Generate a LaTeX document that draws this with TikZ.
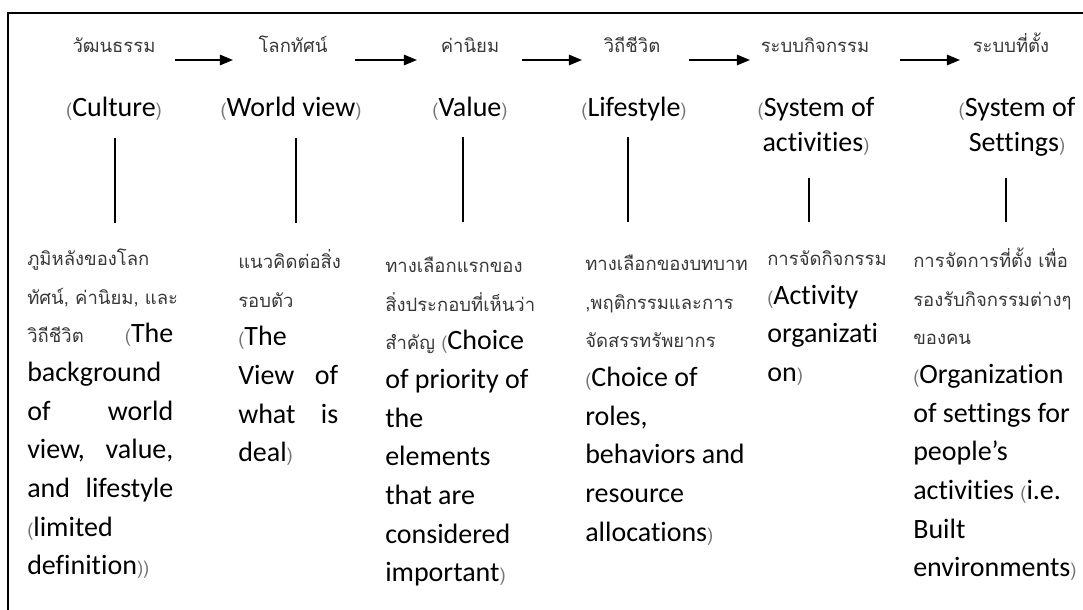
\documentclass[tikz,border=0pt]{standalone}
\usepackage{fontspec}
\setmainfont[Ligatures=NoCommon]{Carlito}
\newfontfamily\thai[Script=Thai,Scale=0.66]{Loma}
\usetikzlibrary{positioning,calc,arrows.meta}

\newcommand\tht[1]{{\thai\color{black!78}#1}}
\newcommand\paro{{\thai\color{black!55}(}}
\newcommand\parc{{\thai\color{black!55})}}
\newcommand\spreadline[3]{\makebox[#1][l]{#2\hfill#3}}

\tikzset{
	thaihead/.style={font=\fontsize{19.9}{25}\selectfont\thai, text=black!78, inner sep=0, anchor=base},
	enghead/.style={font=\fontsize{19.9}{24.9}\selectfont, inner sep=0, anchor=base, align=center},
	desc/.style={font=\fontsize{19.9}{27.5}\selectfont, inner sep=0, anchor=north west, align=left},
	flow/.style={line width=1.4pt, -{Triangle[length=0.33cm,width=0.26cm]}},
	stem/.style={line width=2.1pt},
	frame/.style={line width=1.4pt}
}

\begin{document}
\begin{tikzpicture}[x=0.025cm, y=-0.025cm]
	\useasboundingbox (0,0) rectangle (1083,610);
	\draw[frame] (8,610) -- (8,13) -- (1083,13);

	\node[thaihead] (culture) at (114,53) {วัฒนธรรม};
	\node[thaihead] (worldview) at (293,53) {โลกทัศน์};
	\node[thaihead] (value) at (470,53) {ค่านิยม};
	\node[thaihead] (lifestyle) at (632,53) {วิถีชีวิต};
	\node[thaihead] (activities) at (815,53) {ระบบกิจกรรม};
	\node[thaihead] (settings) at (1011,53) {ระบบที่ตั้ง};

	\draw[flow] ($(culture.base)+(61,7)$) -- ($(worldview.base)+(-60,7)$);
	\draw[flow] ($(worldview.base)+(62,7)$) -- ($(value.base)+(-53,7)$);
	\draw[flow] ($(value.base)+(52,7)$) -- ($(lifestyle.base)+(-50,7)$);
	\draw[flow] ($(lifestyle.base)+(57,7)$) -- ($(activities.base)+(-65,7)$);
	\draw[flow] ($(activities.base)+(85,7)$) -- ($(settings.base)+(-51,7)$);

	\node[enghead] (cultureEn) at (114,117) {\paro Culture\parc};
	\node[enghead] (worldviewEn) at (291,117) {\paro World view\parc};
	\node[enghead] (valueEn) at (470,117) {\paro Value\parc};
	\node[enghead] (lifestyleEn) at (634,117) {\paro Lifestyle\parc};
	\node[enghead] (activitiesEn) at (816,152) {\paro System of\\activities\parc};
	\node[enghead] (settingsEn) at (1017,152) {\paro System of\\Settings\parc};

	\draw[stem] ($(cultureEn.base)+(1,21)$) -- ($(cultureEn.base)+(1,106)$);
	\draw[stem] ($(worldviewEn.base)+(5,21)$) -- ($(worldviewEn.base)+(5,106)$);
	\draw[stem] ($(valueEn.base)+(-7,20)$) -- ($(valueEn.base)+(-7,105)$);
	\draw[stem] ($(lifestyleEn.base)+(-6,20)$) -- ($(lifestyleEn.base)+(-6,105)$);
	\draw[stem] ($(activitiesEn.base)+(-7,26)$) -- ($(activitiesEn.base)+(-7,70)$);
	\draw[stem] ($(settingsEn.base)+(-11,26)$) -- ($(settingsEn.base)+(-11,70)$);

	\node[desc] (cultureTx) at (27,238) {\strut\tht{ภูมิหลังของโลก}\\
		\tht{ทัศน์, ค่านิยม, และ}\\
		\spreadline{3.65cm}{\tht{วิถีชีวิต}}{\paro The}\\
		background\\
		\spreadline{3.65cm}{of}{world}\\
		\spreadline{3.65cm}{view,}{value,}\\
		\spreadline{3.65cm}{and}{lifestyle}\\
		\paro limited\\
		definition\parc\parc};
	\node[desc] (worldviewTx) at (238,241) {\strut\tht{แนวคิดต่อสิ่ง}\\
		\tht{รอบตัว}\\
		\paro The\\
		\spreadline{2.5cm}{View}{of}\\
		\spreadline{2.5cm}{what}{is}\\
		deal\parc};
	\node[desc] (valueTx) at (385,245) {\strut\tht{ทางเลือกแรกของ}\\
		\tht{สิ่งประกอบที่เห็นว่า}\\
		\tht{สำคัญ} \paro Choice\\
		of priority of\\
		the\\
		elements\\
		that are\\
		considered\\
		important\parc};
	\node[desc] (lifestyleTx) at (585,243) {\strut\tht{ทางเลือกของบทบาท}\\
		\tht{,พฤติกรรมและการ}\\
		\tht{จัดสรรทรัพยากร}\\
		\paro Choice of\\
		roles,\\
		behaviors and\\
		resource\\
		allocations\parc};
	\node[desc] (activitiesTx) at (767,238) {\strut\tht{การจัดกิจกรรม}\\
		\paro Activity\\
		organizati\\
		on\parc};
	\node[desc] (settingsTx) at (913,240) {\strut\tht{การจัดการที่ตั้ง เพื่อ}\\
		\tht{รองรับกิจกรรมต่างๆ}\\
		\tht{ของคน}\\
		\paro Organization\\
		of settings for\\
		people’s\\
		activities \paro i.e.\\
		Built\\
		environments\parc};
\end{tikzpicture}
\end{document}
